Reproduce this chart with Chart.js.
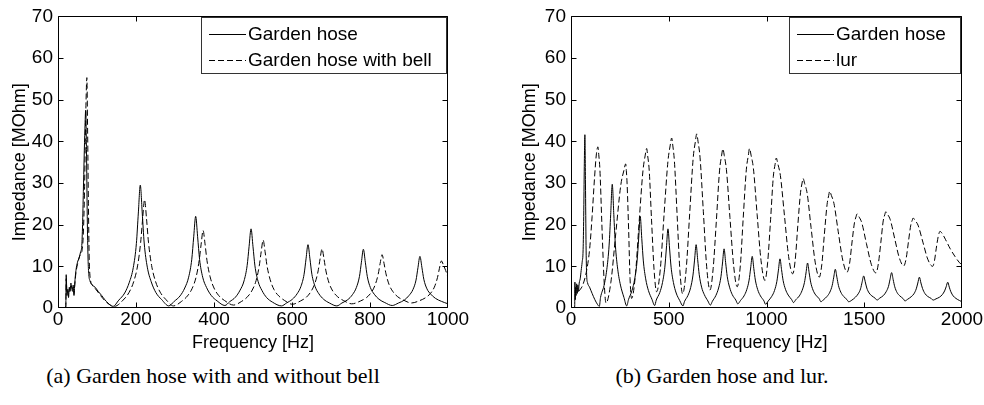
<!DOCTYPE html>
<html>
<head>
<meta charset="utf-8">
<script src="https://cdn.jsdelivr.net/npm/chart.js@4.4.0/dist/chart.umd.min.js"></script>
<style>
body { margin: 0; background: #fff; }
#wrap { position: relative; width: 984px; height: 405px; overflow: hidden; background: #fff; }
canvas { position: absolute; top: 0; }
#c1 { left: 0; }
#c2 { left: 500px; }
.cap { position: absolute; top: 363px; font: 22px "Liberation Serif", "Times New Roman", serif; line-height: 26px; white-space: nowrap; transform: translateX(-50%); }
</style>
</head>
<body>
<div id="wrap">
  <canvas id="c1" width="470" height="360"></canvas>
  <canvas id="c2" width="484" height="360"></canvas>
  <div class="cap" style="left:213px">(a) Garden hose with and without bell</div>
  <div class="cap" style="left:722px">(b) Garden hose and lur.</div>
</div>
<script>
// (a) garden hose, 0-1000 Hz
const hoseF = [18, 20, 21, 23, 25, 27, 29, 31, 33, 35, 37, 39, 41, 43, 46, 50, 54, 58, 61, 63, 65, 67, 69, 71, 73, 75, 77, 79, 82, 88, 95, 103, 112, 120, 128, 135, 141,
  156, 171, 183, 193, 201, 206, 211, 216, 221, 229, 239, 251, 266, 284,
  298, 313, 325, 335, 343, 348, 353, 358, 363, 371, 381, 393, 408, 428,
  440, 455, 467, 477, 485, 490, 495, 500, 505, 513, 523, 535, 550, 573,
  586, 601, 613, 623, 631, 636, 641, 646, 651, 659, 669, 681, 696, 715,
  728, 743, 755, 765, 773, 778, 783, 788, 793, 801, 811, 823, 838, 857,
  873, 888, 900, 910, 918, 923, 928, 933, 938, 946, 956, 968, 983, 1000];
const hoseZ = [0, 0.5, 8, 3, 4.5, 2.5, 5, 4, 6, 5, 4, 5.5, 3, 6, 9, 11, 12, 13.5, 15, 20, 28, 36, 43, 47.5, 38, 22, 12, 8, 6.5, 5.5, 5, 4, 3, 2, 1.2, 0.6, 0.4,
  1.9, 3.6, 6.2, 9.7, 15.5, 22.8, 29.5, 22.8, 15.6, 9.8, 6.3, 3.7, 2, 0.5,
  1.6, 2.9, 4.8, 7.4, 11.7, 17.1, 22, 17.1, 11.7, 7.4, 4.9, 3, 1.7, 0.6,
  1.5, 2.6, 4.3, 6.5, 10.2, 14.8, 19, 14.7, 10.1, 6.4, 4.2, 2.5, 1.4, 0.5,
  1.2, 2.1, 3.4, 5.2, 8.1, 11.8, 15.2, 11.8, 8.1, 5.2, 3.4, 2.1, 1.2, 0.5,
  1.2, 2, 3.2, 4.9, 7.6, 11, 14.1, 11, 7.6, 4.9, 3.3, 2.1, 1.3, 0.6,
  1.2, 1.9, 3, 4.4, 6.7, 9.7, 12.4, 9.8, 6.9, 4.6, 3.3, 2.3, 1.6, 1.0];

// (a) garden hose with bell
const bellF = [18, 20, 21, 23, 25, 27, 29, 31, 33, 35, 37, 39, 41, 43, 46, 50, 54, 58, 62, 65, 68, 70, 72, 74, 76, 78, 80, 83, 88, 96, 105, 115, 125, 135, 145,
  167, 182, 194, 204, 212, 217, 222, 227, 232, 240, 250, 262, 277, 296,
  317, 332, 344, 354, 362, 367, 372, 377, 382, 390, 400, 412, 427, 450,
  471, 486, 498, 508, 516, 521, 526, 531, 536, 544, 554, 566, 581, 601,
  622, 637, 649, 659, 667, 672, 677, 682, 687, 695, 705, 717, 732, 753,
  776, 791, 803, 813, 821, 826, 831, 836, 841, 849, 859, 871, 886, 906,
  928, 943, 955, 965, 973, 978, 983, 988, 994, 1000];
const bellZ = [0, 0.3, 7, 3.5, 4, 3, 4.5, 4.5, 5.5, 5, 4.5, 5, 3.5, 5.5, 8.5, 10.5, 12, 13, 14, 18, 28, 40, 50, 55.3, 42, 25, 12, 7, 5.5, 4.6, 3.5, 2.3, 1.3, 0.7, 0.4,
  1.9, 3.7, 6.3, 10.1, 15.8, 21.4, 26, 21.4, 15.8, 10.2, 6.4, 3.8, 2, 0.5,
  1.6, 2.9, 4.7, 7.4, 11.4, 15.3, 18.6, 15.4, 11.4, 7.5, 4.8, 3, 1.8, 0.7,
  1.6, 2.7, 4.3, 6.6, 10.1, 13.5, 16.3, 13.5, 10.1, 6.8, 4.4, 2.9, 1.8, 0.9,
  1.7, 2.6, 4, 6, 8.9, 11.8, 14.2, 11.8, 8.9, 6, 4, 2.7, 1.8, 1.0,
  1.7, 2.5, 3.7, 5.5, 8.1, 10.7, 12.8, 10.7, 8.2, 5.6, 3.9, 2.7, 1.9, 1.2,
  1.8, 2.5, 3.5, 5, 7.3, 9.5, 11.3, 10.4, 9, 7.4];

// (b) garden hose, 0-2000 Hz
const hose2F = [17, 19, 20, 22, 24, 26, 29, 32, 35, 38, 42, 47, 52, 57, 62, 65, 68, 71, 74, 77, 80, 85, 95, 108, 122, 135, 145,
  151, 169, 183, 195, 203, 211, 219, 227, 239, 253, 271, 285,
  294, 312, 326, 338, 346, 354, 362, 370, 382, 396, 414, 428,
  436, 454, 468, 480, 488, 496, 504, 512, 524, 538, 556, 573,
  580, 598, 612, 624, 632, 640, 648, 656, 668, 682, 700, 713,
  723, 741, 755, 767, 775, 783, 791, 799, 811, 825, 843, 853,
  867, 885, 899, 911, 919, 927, 935, 943, 955, 969, 987, 995,
  1009, 1027, 1041, 1053, 1061, 1069, 1077, 1085, 1097, 1111, 1129, 1138,
  1150, 1168, 1182, 1194, 1202, 1210, 1218, 1226, 1238, 1252, 1270, 1278,
  1292, 1310, 1324, 1336, 1344, 1352, 1360, 1368, 1380, 1394, 1412, 1420,
  1437, 1455, 1469, 1481, 1489, 1497, 1505, 1513, 1525, 1539, 1557, 1565,
  1580, 1598, 1612, 1624, 1632, 1640, 1648, 1656, 1668, 1682, 1700, 1708,
  1722, 1740, 1754, 1766, 1774, 1782, 1790, 1798, 1810, 1824, 1842, 1853,
  1867, 1885, 1899, 1911, 1919, 1927, 1935, 1943, 1955, 1969, 1987, 2000];
const hose2Z = [0, 0.5, 6.2, 2, 5, 3, 5.8, 3.5, 5.5, 4, 6, 7, 9, 11, 14, 22, 34, 41.6, 30, 15, 8, 6, 5, 3.5, 2, 0.9, 0.4,
  2.5, 5.4, 9.2, 15.1, 22.4, 29.7, 22.4, 15.1, 9.3, 5.5, 2.5, 0.5,
  2, 4.2, 7, 11.3, 16.6, 22, 16.7, 11.3, 7, 4.2, 2.1, 0.6,
  1.9, 3.7, 6.1, 9.8, 14.4, 19, 14.4, 9.8, 6.1, 3.6, 1.8, 0.5,
  1.5, 3, 4.9, 7.9, 11.5, 15.2, 11.6, 8, 5, 3.2, 1.7, 0.7,
  1.6, 3, 4.8, 7.5, 10.8, 14.2, 10.9, 7.6, 5, 3.2, 1.9, 1.0,
  1.8, 2.9, 4.4, 6.7, 9.6, 12.4, 9.5, 6.7, 4.4, 2.9, 1.7, 0.9,
  1.7, 2.8, 4.2, 6.4, 9.1, 11.8, 9.2, 6.6, 4.5, 3.1, 2, 1.3,
  2, 2.9, 4.2, 6.1, 8.4, 10.8, 8.5, 6.2, 4.3, 3.1, 2.2, 1.5,
  2, 2.8, 3.8, 5.4, 7.4, 9.3, 7.4, 5.4, 3.8, 2.8, 2, 1.5,
  1.9, 2.6, 3.4, 4.6, 6.2, 7.7, 6.3, 4.8, 3.6, 2.9, 2.3, 1.9,
  2.4, 3, 3.9, 5.2, 6.9, 8.5, 6.8, 5.1, 3.7, 2.9, 2.2, 1.7,
  2.1, 2.7, 3.4, 4.6, 6, 7.4, 6, 4.7, 3.5, 2.8, 2.3, 1.9,
  2.2, 2.6, 3.2, 4.1, 5.1, 6.2, 5, 3.9, 2.9, 2.3, 1.8, 1.5];

// (b) lur
const lurF = [40, 60, 80, 95, 108, 120, 130, 138, 142, 148, 158, 169, 179,
  204, 229, 255, 270, 280, 283, 287, 295, 302, 310,
  329, 348, 368, 379, 387, 392, 400, 412, 425, 438,
  457, 476, 496, 507, 515, 521, 529, 543, 557, 571,
  589, 607, 625, 636, 643, 650, 660, 677, 694, 711,
  727, 744, 760, 770, 777, 784, 795, 813, 832, 850,
  866, 881, 897, 907, 913, 921, 933, 952, 972, 992,
  1006, 1021, 1035, 1044, 1050, 1058, 1071, 1092, 1113, 1134,
  1147, 1160, 1174, 1182, 1187, 1195, 1208, 1228, 1249, 1270,
  1283, 1296, 1310, 1318, 1323, 1332, 1345, 1367, 1390, 1412,
  1425, 1437, 1450, 1458, 1463, 1473, 1487, 1511, 1536, 1560,
  1572, 1585, 1597, 1605, 1610, 1619, 1633, 1656, 1679, 1702,
  1714, 1726, 1738, 1745, 1750, 1760, 1775, 1800, 1825, 1850,
  1859, 1868, 1878, 1883, 1887, 1897, 1915, 1940, 1965, 1985, 2000];
const lurZ = [4, 5.5, 9, 14, 22, 31, 37, 38.7, 36.8, 33.1, 20, 6.8, 1.2,
  6.2, 17.9, 29.6, 32.9, 34.6, 33, 29.8, 18.5, 7.1, 2.3,
  7.7, 20.3, 32.9, 36.5, 38.3, 36.6, 33.1, 21.1, 9.1, 3.9,
  9.4, 22.4, 35.3, 38.9, 40.8, 38.9, 35.2, 22.1, 9, 3.4,
  9.2, 22.6, 36, 39.9, 41.8, 39.9, 36.2, 23.1, 9.9, 4.3,
  9.4, 21.3, 33.1, 36.5, 38.2, 36.6, 33.2, 21.7, 10.1, 5.1,
  10.1, 21.7, 33.3, 36.6, 38.3, 36.7, 33.5, 22.5, 11.4, 6.6,
  11, 21.3, 31.6, 34.5, 36, 34.6, 31.8, 22.1, 12.4, 8.2,
  11.6, 19.7, 27.7, 30, 31.1, 29.9, 27.5, 19.3, 11, 7.4,
  10.5, 17.7, 24.9, 27, 28, 27, 25.1, 18.3, 11.5, 8.6,
  10.7, 15.6, 20.5, 21.9, 22.6, 21.9, 20.5, 15.5, 10.5, 8.4,
  10.6, 15.8, 20.9, 22.4, 23.1, 22.5, 21.2, 16.6, 12.1, 10.1,
  11.8, 15.9, 19.9, 21, 21.6, 21, 19.9, 15.8, 11.7, 10,
  11.3, 14.2, 17.1, 18, 18.4, 18, 16.5, 14.2, 12.3, 11, 10.3];

const SANS = '"Liberation Sans", Arial, Helvetica, sans-serif';
Chart.defaults.font.family = SANS;
Chart.defaults.color = '#000';

function pts(fs, zs) {
    return fs.map((f, i) => ({ x: f, y: zs[i] }));
}

const clamp = (v, lo, hi) => Math.min(hi, Math.max(lo, v));

// matlab-ish box: frame, inward ticks on all sides, legend with a border
const boxPlugin = {
    id: 'boxLegend',
    afterDatasetsDraw(chart, args, opts) {
        const { ctx, chartArea: a, scales: { x, y } } = chart;
        const L = Math.round(a.left) + 0.5, R = Math.round(a.right) - 0.5;
        const T = Math.round(a.top) + 0.5, B = Math.round(a.bottom) - 0.5;
        ctx.save();
        ctx.strokeStyle = '#000';
        ctx.lineWidth = 1;
        ctx.setLineDash([]);
        ctx.beginPath();
        ctx.rect(L, T, R - L, B - T);
        for (const t of x.ticks) {
            const px = clamp(Math.round(x.getPixelForValue(t.value)) + 0.5, L, R);
            ctx.moveTo(px, B); ctx.lineTo(px, B - 5);
            ctx.moveTo(px, T); ctx.lineTo(px, T + 5);
        }
        for (const t of y.ticks) {
            const py = clamp(Math.round(y.getPixelForValue(t.value)) + 0.5, T, B);
            ctx.moveTo(L, py); ctx.lineTo(L + 5, py);
            ctx.moveTo(R, py); ctx.lineTo(R - 5, py);
        }
        ctx.stroke();

        // legend box
        const bx = opts.left + 0.5, by = opts.top + 0.5;
        ctx.fillStyle = '#fff';
        ctx.fillRect(bx, by, opts.width, opts.height);
        ctx.strokeStyle = '#333';
        ctx.strokeRect(bx, by, opts.width, opts.height);
        ctx.font = '19px ' + SANS;
        ctx.textBaseline = 'middle';
        ctx.fillStyle = '#000';
        chart.data.datasets.forEach((ds, i) => {
            const ry = Math.round(opts.top + 17 + i * 26) + 0.5;
            ctx.strokeStyle = '#000';
            ctx.setLineDash(ds.borderDash || []);
            ctx.beginPath();
            ctx.moveTo(opts.left + 8, ry);
            ctx.lineTo(opts.left + 45, ry);
            ctx.stroke();
            ctx.setLineDash([]);
            ctx.fillText(ds.label, opts.left + 47, ry);
        });
        ctx.restore();
    }
};

function make_chart(el, o) {
    return new Chart(el, {
        type: 'line',
        data: {
            datasets: o.series.map(s => ({
                label: s.label,
                data: pts(s.f, s.z),
                borderColor: '#000',
                borderWidth: 1,
                borderDash: s.dash,
                pointRadius: 0,
                cubicInterpolationMode: 'monotone',
                fill: false
            }))
        },
        options: {
            responsive: false,
            animation: false,
            events: [],
            layout: { padding: { left: 0, right: o.padRight, top: 13, bottom: 0 } },
            scales: {
                x: {
                    type: 'linear', min: 0, max: o.xMax,
                    ticks: { stepSize: o.xStep, padding: 0, font: { size: 19 }, maxRotation: 0, autoSkip: false,
                             callback: v => String(v) },
                    grid: { display: false, drawTicks: false },
                    border: { display: false },
                    title: { display: true, text: 'Frequency [Hz]', font: { size: 18 }, padding: { top: 0, bottom: 6 } },
                    afterFit: s => { s.height = 52; }
                },
                y: {
                    min: 0, max: 70,
                    ticks: { stepSize: 10, padding: 5, font: { size: 19 }, callback: v => String(v) },
                    grid: { display: false, drawTicks: false },
                    border: { display: false },
                    title: { display: true, text: 'Impedance [MOhm]', font: { size: 18 }, padding: { top: o.yTitlePad, bottom: 0 } },
                    afterFit: s => { s.width = o.yWidth; }
                }
            },
            plugins: {
                legend: { display: false },
                tooltip: { enabled: false },
                boxLegend: o.legend
            }
        },
        plugins: [boxPlugin]
    });
}

make_chart(document.getElementById('c1'), {
    xMax: 1000, xStep: 200, yWidth: 58, padRight: 22, yTitlePad: 9,
    legend: { left: 201, top: 17, width: 245, height: 56 },
    series: [
        { label: 'Garden hose', f: hoseF, z: hoseZ, dash: [] },
        { label: 'Garden hose with bell', f: bellF, z: bellZ, dash: [6, 3] }
    ]
});

make_chart(document.getElementById('c2'), {
    xMax: 2000, xStep: 500, yWidth: 71, padRight: 22, yTitlePad: 19,
    legend: { left: 289, top: 17, width: 171, height: 56 },
    series: [
        { label: 'Garden hose', f: hose2F, z: hose2Z, dash: [] },
        { label: 'lur', f: lurF, z: lurZ, dash: [6, 3] }
    ]
});
</script>
</body>
</html>
